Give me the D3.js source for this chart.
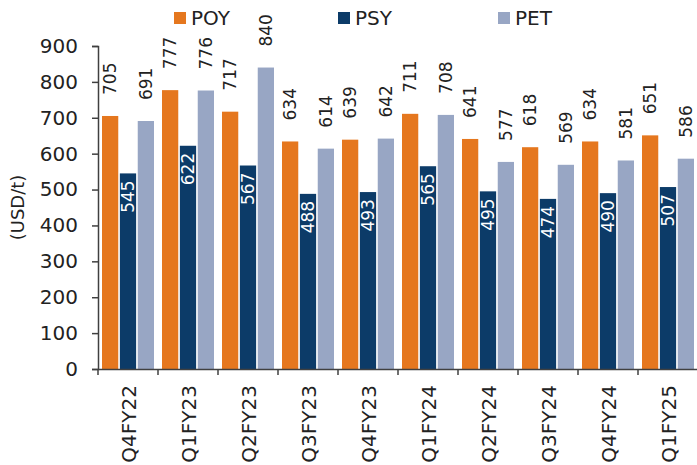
<!DOCTYPE html>
<html>
<head>
<meta charset="utf-8">
<script src="https://cdn.jsdelivr.net/npm/d3@7"></script>
<style>
  body { margin: 0; background: #fff; }
  svg text { font-family: "DejaVu Sans", "Noto Sans", sans-serif; fill: #222; }
</style>
</head>
<body>
<svg id="chart" width="697" height="465"></svg>
<script>
// Quarterly prices, USD per tonne
const quarters = ["Q4FY22", "Q1FY23", "Q2FY23", "Q3FY23", "Q4FY23", "Q1FY24", "Q2FY24", "Q3FY24", "Q4FY24", "Q1FY25"];
const poy = [705, 777, 717, 634, 639, 711, 641, 618, 634, 651];
const psy = [545, 622, 567, 488, 493, 565, 495, 474, 490, 507];
const pet = [691, 776, 840, 614, 642, 708, 577, 569, 581, 586];
const seriesNames = ["POY", "PSY", "PET"];
const yTicks = [0, 100, 200, 300, 400, 500, 600, 700, 800, 900];

const colors = { POY: "#E5771E", PSY: "#0C3B68", PET: "#98A6C4" };
const seriesData = { POY: poy, PSY: psy, PET: pet };

const svg = d3.select("#chart");
const margin = { left: 98, right: 0, top: 46, bottom: 96 };
const W = 697, H = 465;

const x = d3.scaleBand().domain(quarters).range([margin.left, 698]).paddingInner(0).paddingOuter(0);
const xs = d3.scaleBand().domain(seriesNames).range([4, x.bandwidth() - 4]).paddingInner(0.09);
const y = d3.scaleLinear().domain([0, 900]).range([H - margin.bottom, margin.top]);

// bars
const groups = svg.append("g").selectAll("g").data(quarters).join("g")
  .attr("transform", q => `translate(${x(q)},0)`);

seriesNames.forEach(s => {
  groups.append("rect")
    .attr("x", xs(s))
    .attr("width", xs.bandwidth())
    .attr("y", (q, i) => y(seriesData[s][i]))
    .attr("height", (q, i) => y(0) - y(seriesData[s][i]))
    .attr("fill", colors[s]);
});

// value labels: above bars for POY and PET, inside the bar top for PSY
seriesNames.forEach(s => {
  groups.append("text")
    .attr("transform", (q, i) => {
      const cx = xs(s) + xs.bandwidth() / 2;
      const v = seriesData[s][i];
      const yy = s === "PSY" ? y(v) + 7 : y(v) - 21;
      return `translate(${cx + 6},${yy}) rotate(-90)`;
    })
    .attr("text-anchor", s === "PSY" ? "end" : "start")
    .style("font-size", "17px")
    .style("fill", s === "PSY" ? "#ffffff" : "#222")
    .text((q, i) => seriesData[s][i]);
});

// y axis
const yAxis = svg.append("g")
  .attr("transform", `translate(${margin.left},0)`)
  .call(d3.axisLeft(y).tickValues(yTicks).tickSize(6).tickPadding(14));
yAxis.selectAll("text").style("font-size", "20px");
yAxis.selectAll("path, line").attr("stroke", "#404040").attr("stroke-width", 1.5);

// x axis
const xAxis = svg.append("g")
  .attr("transform", `translate(0,${y(0)})`)
  .call(d3.axisBottom(x).tickSize(0).tickFormat(() => ""));
xAxis.select(".domain").attr("stroke", "#404040").attr("stroke-width", 1.5);
xAxis.selectAll(".tick").remove();

// boundary ticks between quarters
const bounds = quarters.map(q => x(q));
xAxis.selectAll("line.sep").data(bounds).join("line")
  .attr("class", "sep")
  .attr("x1", d => d).attr("x2", d => d)
  .attr("y1", 0).attr("y2", 6)
  .attr("stroke", "#404040").attr("stroke-width", 1.5);

xAxis.selectAll("text.ql").data(quarters).join("text")
  .attr("class", "ql")
  .attr("transform", q => `translate(${x(q) + x.bandwidth() / 2 + 8},16) rotate(-90)`)
  .attr("text-anchor", "end")
  .style("font-size", "20px")
  .text(q => q);

// y axis title
svg.append("text")
  .attr("transform", `translate(24,${(y(0) + y(900)) / 2}) rotate(-90)`)
  .attr("text-anchor", "middle")
  .style("font-size", "18px")
  .text("(USD/t)");

// legend
const legendX = [174, 338, 498];
const legend = svg.append("g").selectAll("g").data(seriesNames).join("g")
  .attr("transform", (s, i) => `translate(${legendX[i]},12)`);
legend.append("rect").attr("width", 12).attr("height", 12).attr("fill", s => colors[s]);
legend.append("text").attr("x", 17).attr("y", 12.5).style("font-size", "20px").text(s => s);
</script>
</body>
</html>
